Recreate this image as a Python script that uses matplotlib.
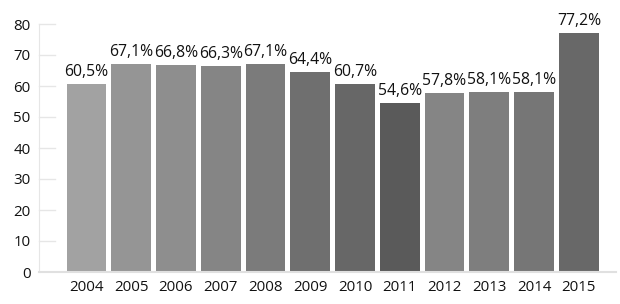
import matplotlib.pyplot as plt

years = ["2004", "2005", "2006", "2007", "2008", "2009",
         "2010", "2011", "2012", "2013", "2014", "2015"]
values = [60.5, 67.1, 66.8, 66.3, 67.1, 64.4, 60.7, 54.6, 57.8, 58.1, 58.1, 77.2]
labels = ["60,5%", "67,1%", "66,8%", "66,3%", "67,1%", "64,4%",
          "60,7%", "54,6%", "57,8%", "58,1%", "58,1%", "77,2%"]
colors = ["#a2a2a2", "#959595", "#8e8e8e", "#858585", "#7b7b7b", "#6f6f6f",
          "#676767", "#5a5a5a", "#858585", "#7e7e7e", "#767676", "#686868"]
yticks = [0, 10, 20, 30, 40, 50, 60, 70, 80]

plt.rcParams['font.family'] = ['Open Sans', 'DejaVu Sans']

fig = plt.figure(figsize=(6.2, 3.04), dpi=100)
ax = fig.add_axes([39 / 620, 1 - 272 / 304, (616 - 39) / 620, (272 - 24) / 304])

x = list(range(len(years)))
bars = ax.bar(x, values, width=0.89, color=colors, zorder=2)

for b, lab in zip(bars, labels):
    ax.annotate(lab, (b.get_x() + b.get_width() / 2, b.get_height()),
                xytext=(0, 3), textcoords="offset points",
                ha="center", va="bottom", fontsize=11.3, color="#111111")

ax.set_xlim(-1.06, 11.83)
ax.set_ylim(0, 80)
ax.set_xticks(x)
ax.set_xticklabels(years)
ax.set_yticks(yticks)

# short light marks next to the axis instead of full grid lines
for t in yticks[1:]:
    ax.plot([-1.06, -0.7], [t, t], color="#e6e6e6", lw=1, zorder=1, clip_on=False)

ax.tick_params(axis="both", length=0, labelsize=10.8, labelcolor="#111111")
ax.tick_params(axis="x", pad=6)
ax.tick_params(axis="y", pad=6)

for s in ["top", "right"]:
    ax.spines[s].set_visible(False)
ax.spines["left"].set_color("#e6e6e6")
ax.spines["bottom"].set_color("#e0e0e0")
ax.spines["bottom"].set_linewidth(1.5)

fig.savefig("out.png", dpi=100, facecolor="white")
